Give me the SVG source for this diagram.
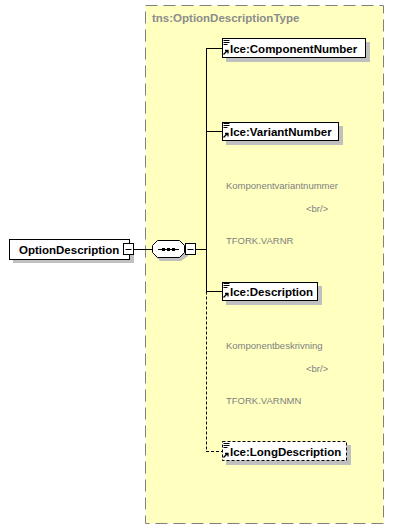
<svg xmlns="http://www.w3.org/2000/svg" width="394" height="529" viewBox="0 0 394 529">
<style>
.lbl{font-family:"Liberation Sans",Arial,sans-serif;font-size:11.5px;font-weight:bold;fill:#000}
.ann{font-family:"Liberation Sans",Arial,sans-serif;font-size:9.5px;fill:#808080}
.type{font-family:"Liberation Sans",Arial,sans-serif;font-size:11.5px;font-weight:bold;fill:#8c8c8c}
.box{fill:#fff;stroke:#000;stroke-width:1}
.dbox{fill:#fff;stroke:#000;stroke-width:1;stroke-dasharray:3,2}
.shd{fill:#c0c0c0}
.ln{stroke:#000;stroke-width:1;fill:none}
.dln{stroke:#000;stroke-width:1;fill:none;stroke-dasharray:3,2}
</style>
<defs>
<g id="icon">
<path d="M1.5 1.5h6M1.5 3.5h6M1.5 5.5h4" stroke="#000" stroke-width="1" fill="none"/>
<path d="M1.5 15.5l4-4M3 11.5h3v3" stroke="#000" stroke-width="1.3" fill="none"/>
</g>
</defs>
<g id="type-box">
<rect x="145.5" y="5.5" width="238" height="518" fill="#ffffc0" stroke="#808080" stroke-width="1" stroke-dasharray="12,6"/>
<text class="type" x="152" y="22">tns:OptionDescriptionType</text>
</g>
<g id="connectors">
<path class="ln" d="M133 249.5H152"/>
<path class="ln" d="M196 249.5H206"/>
<path class="ln" d="M206.5 48V291.5"/>
<path class="dln" d="M206.5 291.5V451"/>
<path class="ln" d="M206 48.5H222"/>
<path class="ln" d="M206 131.5H222"/>
<path class="ln" d="M206 291.5H222"/>
<path class="dln" d="M206 451.5H222"/>
</g>
<g id="OptionDescription">
<rect class="shd" x="13" y="243" width="121" height="20"/>
<rect class="box" x="9.5" y="239.5" width="120" height="20"/>
<text class="lbl" x="19" y="254">OptionDescription</text>
<rect class="box" x="123.5" y="243.5" width="10" height="11"/>
<path class="ln" d="M125.5 249.5h6"/>
</g>
<g id="sequence">
<path class="shd" d="M160 244H180L188 252V256L181 261H160L155 256V252Z"/>
<path d="M157.5 240.5H179.5L184.5 245.5V252.5L179.5 257.5H157.5L152.5 252.5V245.5Z" fill="#fff" stroke="#000"/>
<path class="ln" d="M158 249.5h21"/>
<rect x="162" y="248" width="3" height="3" fill="#000"/>
<rect x="167" y="248" width="3" height="3" fill="#000"/>
<rect x="172" y="248" width="3" height="3" fill="#000"/>
<rect class="box" x="185.5" y="243.5" width="10" height="11"/>
<path class="ln" d="M187.5 249.5h6"/>
</g>
<g id="ComponentNumber">
<rect class="shd" x="226" y="42" width="144" height="20"/>
<rect class="box" x="222.5" y="38.5" width="143" height="19"/>
<use href="#icon" x="222" y="39"/>
<text class="lbl" x="230" y="53">Ice:ComponentNumber</text>
</g>
<g id="VariantNumber">
<rect class="shd" x="226" y="126" width="117" height="19"/>
<rect class="box" x="222.5" y="122.5" width="116" height="18"/>
<use href="#icon" x="222" y="122"/>
<text class="lbl" x="230" y="136">Ice:VariantNumber</text>
<text class="ann" x="226" y="189">Komponentvariantnummer</text>
<text class="ann" x="306" y="212">&lt;br/&gt;</text>
<text class="ann" x="226" y="244">TFORK.VARNR</text>
</g>
<g id="Description">
<rect class="shd" x="226" y="286" width="96" height="19"/>
<rect class="box" x="222.5" y="282.5" width="95" height="18"/>
<use href="#icon" x="222" y="282"/>
<text class="lbl" x="230" y="296">Ice:Description</text>
<text class="ann" x="226" y="349">Komponentbeskrivning</text>
<text class="ann" x="306" y="372">&lt;br/&gt;</text>
<text class="ann" x="226" y="404">TFORK.VARNMN</text>
</g>
<g id="LongDescription">
<rect class="shd" x="226" y="445" width="125" height="20"/>
<rect class="dbox" x="222.5" y="441.5" width="124" height="19"/>
<use href="#icon" x="222" y="442"/>
<text class="lbl" x="230" y="456">Ice:LongDescription</text>
</g>
</svg>
